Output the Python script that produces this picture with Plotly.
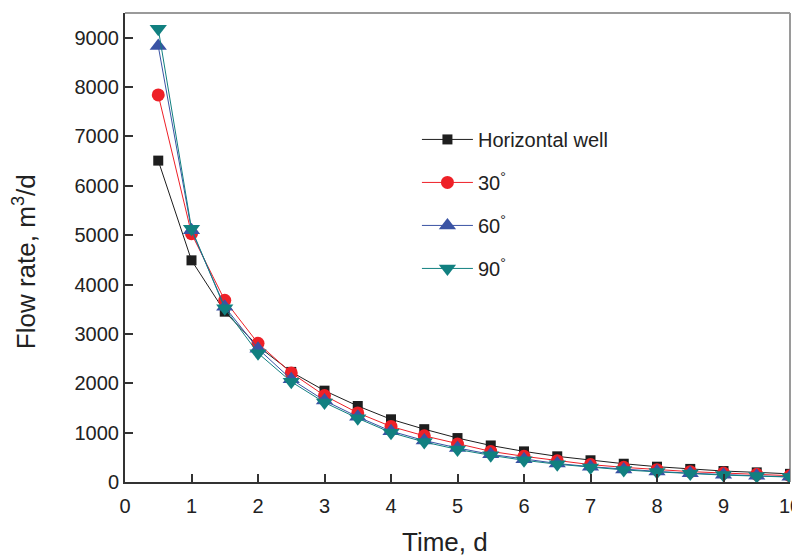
import plotly.graph_objects as go

time_d = [0.5, 1, 1.5, 2, 2.5, 3, 3.5, 4, 4.5, 5, 5.5, 6, 6.5, 7, 7.5, 8, 8.5, 9, 9.5, 10]
horizontal = [6510, 4490, 3450, 2750, 2230, 1850, 1540, 1270, 1070, 890, 740, 620, 520, 440, 370, 310, 265, 222, 195, 165]
deg30 = [7840, 5030, 3680, 2810, 2210, 1750, 1400, 1125, 935, 770, 620, 520, 430, 352, 297, 250, 210, 182, 155, 128]
deg60 = [8830, 5100, 3550, 2700, 2080, 1650, 1320, 1030, 840, 690, 560, 460, 375, 310, 255, 215, 178, 148, 125, 105]
deg90 = [9180, 5130, 3520, 2610, 2030, 1610, 1290, 1000, 810, 660, 540, 440, 360, 295, 245, 205, 170, 140, 120, 100]

series = [
    ("Horizontal well", horizontal, "#1e1e1e", "square", 10),
    ("30<sup>°</sup>", deg30, "#ee2027", "circle", 13),
    ("60<sup>°</sup>", deg60, "#3a53a4", "triangle-up", 15),
    ("90<sup>°</sup>", deg90, "#118080", "triangle-down", 15),
]

fig = go.Figure()
for i, (name, vals, color, sym, sz) in enumerate(series):
    fig.add_trace(go.Scatter(
        x=time_d, y=vals, name=name, mode="lines+markers",
        line=dict(color=color, width=1),
        marker=dict(symbol=sym, size=sz, color=color),
        legendgroup=f"g{i}",
    ))

# page body has an 8px margin, so the figure is 792x552 and offset by 8px
fig.update_layout(
    width=792, height=552,
    margin=dict(l=117, r=10, t=5, b=78, autoexpand=False),
    paper_bgcolor="white", plot_bgcolor="white",
    font=dict(family="Liberation Sans, Arial, sans-serif", color="#222"),
    legend=dict(x=0.439, y=0.772, xanchor="left", yanchor="top",
                font=dict(size=20, color="#222"), tracegroupgap=14, itemwidth=51,
                bgcolor="rgba(0,0,0,0)"),
    xaxis=dict(range=[0, 10], tickvals=list(range(0, 11)), ticks="inside", ticklen=8,
               tickwidth=1.5, tickcolor="#333", showline=True, linecolor="#333", linewidth=2,
               showgrid=False, zeroline=False, tickfont=dict(size=20), ticklabelstandoff=5,
               ticklabeloverflow="allow", automargin=False),
    yaxis=dict(range=[0, 9500], tickvals=list(range(0, 10000, 1000)), ticks="inside", ticklen=8,
               tickwidth=1.5, tickcolor="#333", showline=True, linecolor="#333", linewidth=2,
               showgrid=False, zeroline=False, tickfont=dict(size=20), ticklabelstandoff=0,
               automargin=False),
    annotations=[
        dict(text="Time, d", xref="paper", yref="paper", x=0.481, y=-0.128,
             xanchor="center", yanchor="middle", showarrow=False,
             font=dict(size=26, color="#222")),
        dict(text="Flow rate, m<sup>3</sup>/d", xref="paper", yref="paper", x=-0.151, y=0.47,
             xanchor="center", yanchor="middle", showarrow=False, textangle=-90,
             font=dict(size=26, color="#222")),
    ],
    showlegend=True,
)
fig.add_shape(type="line", xref="paper", yref="paper", x0=0, x1=1, y0=1, y1=1,
              line=dict(color="#9a9a9a", width=2), layer="below")
fig.add_shape(type="line", xref="paper", yref="paper", x0=1, x1=1, y0=0, y1=1,
              line=dict(color="#9a9a9a", width=2), layer="below")

fig.write_html("out.html")
